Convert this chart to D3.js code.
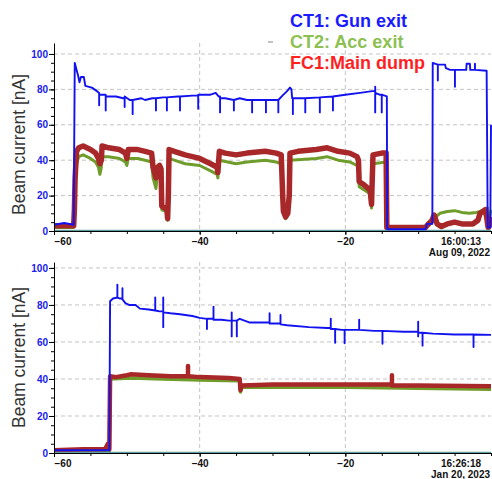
<!DOCTYPE html>
<html>
<head>
<meta charset="utf-8">
<script src="https://cdn.jsdelivr.net/npm/d3@7"></script>
<style>
  body { margin: 0; background: #fff; }
  svg { display: block; font-family: "Liberation Sans", Arial, sans-serif; }
</style>
</head>
<body>
<div id="wrapper"></div>
<script>
// tick values
const xTicks = [-60, -40, -20]
const yTicks = [0, 20, 40, 60, 80, 100]
const legendNames = ["CT1: Gun exit", "CT2: Acc exit", "FC1:Main dump"]
const topStamp = ["16:00:13", "Aug 09, 2022"]
const bottomStamp = ["16:26:18", "Jan 20, 2023"]

// top panel, [minutes, nA]
const topCT1 = [
  [-60, 3.5], [-58.6, 4.5], [-57.3, 3.5], [-57.15, 95], [-56.9, 91], [-56.7, 88], [-56.5, 84],
  [-56.3, 87], [-55.9, 87], [-55.7, 82], [-54.8, 81], [-54.1, 79], [-53.8, 78],
  [-53.8, 71], [-53.8, 77], [-53.3, 77], [-52.9, 77], [-52.9, 68], [-52.9, 76], [-51.5, 76],
  [-50.5, 75], [-50.3, 75], [-50.3, 70], [-50.3, 76], [-49.6, 74], [-49.2, 74], [-49.2, 66],
  [-49.2, 74], [-48, 75], [-47.5, 74], [-46.5, 75], [-46.0, 75], [-46.0, 68], [-46.0, 75],
  [-45, 75.5], [-44.5, 75.5], [-44.5, 68], [-44.5, 75.5], [-43, 76], [-42.7, 76], [-42.7, 68],
  [-42.7, 76], [-41, 76.5], [-40.2, 76.5], [-40.2, 69], [-40.2, 77], [-38.5, 77], [-37.8, 78],
  [-37.4, 76], [-37.2, 76], [-37.2, 67], [-37.2, 75], [-36.5, 75], [-35.3, 74], [-35.3, 68],
  [-35.3, 74], [-34.5, 75], [-33.5, 74], [-32.8, 74], [-32.8, 67], [-32.8, 74], [-30.9, 74],
  [-30.9, 67], [-30.9, 74], [-29.2, 74], [-29.2, 67], [-29.2, 74], [-28.5, 77], [-28.0, 79],
  [-27.6, 81], [-27.4, 80], [-27.3, 75], [-27.2, 75], [-27.2, 66], [-27.2, 75], [-25.5, 75],
  [-25.5, 67], [-25.5, 75], [-23.5, 75.5], [-23.5, 67], [-23.5, 75.5], [-21.7, 76], [-21.7, 68],
  [-21.7, 76], [-20, 77], [-18, 78], [-16.3, 79], [-15.9, 79], [-15.9, 67], [-15.9, 81.5],
  [-15.9, 78], [-15.3, 77], [-15.0, 77], [-15.0, 67], [-15.0, 77], [-14.3, 76], [-14.25, 1],
  [-9.0, 1], [-8.8, 4], [-8.05, 4], [-8.0, 95], [-7.3, 94], [-7.3, 85], [-7.3, 94], [-6.3, 94],
  [-6.2, 92], [-5.6, 91], [-4.95, 91], [-4.95, 81.5], [-4.95, 91], [-3.4, 91], [-3.35, 94.5],
  [-2.9, 94.5], [-2.85, 91], [-2.2, 91], [-2.2, 94.5], [-2.2, 91], [-0.6, 90.5], [-0.45, 2],
  [-0.1, 2], [0, 60]
]
const topCT2 = [
  [-60, 2], [-57.3, 2], [-57.1, 25], [-56.9, 38], [-56.6, 42], [-56, 43], [-55, 41], [-54.3, 39],
  [-53.9, 36], [-53.7, 32], [-53.5, 36], [-53.4, 42], [-52.5, 42], [-51, 41], [-50.2, 39],
  [-50.0, 37], [-49.8, 41], [-48.5, 41], [-47.5, 40], [-46.6, 39], [-46.4, 30], [-46.0, 24],
  [-45.8, 32], [-45.5, 33], [-45.3, 30], [-45.2, 12], [-44.5, 11], [-44.4, 6], [-44.3, 18],
  [-44.2, 41], [-43.5, 40], [-42, 38], [-40, 37], [-38.5, 34], [-37.6, 32], [-37.5, 30],
  [-37.3, 40], [-35, 38], [-33.5, 39], [-31, 40], [-29.5, 39], [-28.8, 38], [-28.6, 18],
  [-28.5, 10], [-28.2, 7], [-27.9, 9], [-27.7, 18], [-27.6, 40], [-24, 41], [-22.5, 42],
  [-21, 40], [-19.4, 39], [-18.4, 37], [-18.2, 35], [-18.1, 25], [-16.6, 21], [-16.4, 13],
  [-16.2, 38], [-14.4, 39], [-14.3, 1.5], [-9, 1.5], [-8.6, 3], [-8.1, 5], [-7.6, 8], [-7, 10],
  [-6, 11], [-5, 11.5], [-4, 10.5], [-3, 10], [-2, 10.5], [-1.5, 11], [-0.8, 12], [-0.5, 13],
  [-0.4, 2], [0, 12]
]
const topFC1 = [
  [-60, 3], [-57.3, 3], [-57.2, 12], [-57.1, 30], [-56.9, 45], [-56.6, 47], [-56, 48], [-55, 46],
  [-54.3, 44], [-53.9, 41], [-53.7, 38], [-53.5, 40], [-53.4, 48], [-52.5, 47], [-51, 46],
  [-50.2, 44], [-50.0, 41], [-49.8, 46], [-48.5, 46], [-47.5, 45], [-46.6, 44], [-46.4, 36],
  [-46.0, 30], [-45.8, 36], [-45.5, 37], [-45.3, 35], [-45.2, 14], [-44.8, 13], [-44.5, 12],
  [-44.4, 7], [-44.3, 20], [-44.2, 46], [-43.5, 45], [-42, 43], [-40, 41], [-38.5, 38],
  [-37.6, 36], [-37.5, 33], [-37.3, 45], [-36.5, 44], [-35, 43], [-33.5, 44], [-31, 45],
  [-29.5, 44], [-28.8, 43], [-28.6, 20], [-28.5, 11], [-28.2, 8], [-27.9, 10], [-27.7, 20],
  [-27.6, 44], [-26.5, 45], [-24, 46], [-22.5, 47], [-21, 45], [-19.4, 44], [-18.4, 42],
  [-18.2, 40], [-18.1, 28], [-17.4, 26], [-16.6, 23], [-16.4, 15], [-16.3, 30], [-16.2, 43],
  [-15, 44], [-14.4, 44], [-14.3, 2], [-9, 2], [-8.6, 4], [-8.1, 6], [-7.8, 9], [-7.4, 4],
  [-6.8, 2.5], [-6, 4], [-5, 5], [-4, 4], [-2.5, 4], [-1.8, 6], [-1.5, 10], [-0.8, 12],
  [-0.6, 8], [-0.4, 2], [-0.2, 3], [0, 8]
]
const topBase = [[-60, 0.3], [0, 0.3]]

// bottom panel, [minutes, nA]
const botCT1 = [
  [-60, 1.5], [-52.4, 1.5], [-52.3, 82], [-51.9, 83.5], [-51.3, 84], [-51.3, 91], [-51.3, 84],
  [-51, 83.5], [-50.6, 83.5], [-50.6, 89], [-50.6, 83], [-50.2, 81], [-49.7, 80], [-48.8, 80],
  [-48.2, 78], [-47, 77.5], [-46.1, 77], [-46.1, 84], [-46.1, 77], [-45.5, 76.5], [-45, 76.5],
  [-45, 84], [-45, 68], [-45, 76], [-44, 75.5], [-42.7, 75], [-41, 74], [-40, 73], [-39, 72.5],
  [-39, 67], [-39, 72.5], [-38.1, 72.5], [-38.1, 79], [-38.1, 72], [-37, 72], [-36, 71.5],
  [-35.6, 71.5], [-35.6, 76], [-35.6, 63], [-35.6, 71.5], [-34.9, 71.5], [-34.9, 63],
  [-34.9, 71.5], [-34.5, 72.5], [-33.1, 70.5], [-30.4, 70.5], [-30.4, 75.5], [-30.4, 70],
  [-29.5, 70], [-28.9, 70], [-28.9, 74.6], [-28.9, 69.5], [-28, 69], [-25, 68], [-22.5, 67.5],
  [-22, 67.5], [-22, 72.5], [-22, 67], [-21.4, 67], [-21.4, 59.6], [-21.4, 67], [-20.5, 66.5],
  [-20.1, 66.5], [-20.1, 59.3], [-20.1, 66.5], [-19, 66.5], [-18.1, 66.5], [-18.1, 72],
  [-18.1, 66.5], [-16, 66], [-14.9, 66], [-14.9, 59], [-14.9, 66], [-12, 65.5], [-10.5, 65.5],
  [-10.0, 65.5], [-10.0, 71], [-10.0, 63], [-10.0, 65], [-9.4, 65], [-9.4, 58], [-9.4, 65],
  [-8, 64.5], [-5, 64], [-2.4, 64], [-2.4, 57.3], [-2.4, 64], [0, 63.8]
]
const botCT2 = [
  [-60, 1], [-52.4, 1], [-52.3, 40], [-49.5, 40.5], [-45, 40], [-40, 39.5], [-34.5, 39],
  [-34.4, 33], [-34.2, 35.5], [-20, 35.5], [-10, 35], [0, 34.5]
]
const botFC1 = [
  [-60, 1.5], [-56, 2], [-53, 2], [-52.6, 5], [-52.4, 2], [-52.3, 41.5], [-51.5, 41],
  [-50, 42], [-49.5, 42.5], [-47, 42], [-44, 41.5], [-41.6, 41.5], [-41.6, 47], [-41.6, 41.5],
  [-40, 41], [-36, 40.5], [-34.5, 40], [-34.4, 34], [-34.2, 36.5], [-30, 37], [-20, 37],
  [-13.6, 37], [-13.6, 42], [-13.6, 36.5], [-10, 36.5], [0, 36]
]
const botBase = [[-60, 0.3], [0, 0.3]]

const xAccessor = d => d[0]
const yAccessor = d => d[1]

const dms = { width: 492, height: 479, left: 54, right: 491 }

const wrapper = d3.select("#wrapper")
  .append("svg")
  .attr("width", dms.width)
  .attr("height", dms.height)

const xScale = d3.scaleLinear()
  .domain([-60, 0])
  .range([dms.left, dms.right])

function drawPanel(p) {
  const yScale = d3.scaleLinear()
    .domain([0, p.yMax])
    .range([p.bottom, p.top])

  const g = wrapper.append("g")

  // grid
  g.append("g").selectAll("line.h")
    .data(yTicks.slice(1))
    .join("line")
    .attr("x1", dms.left).attr("x2", dms.right)
    .attr("y1", d => yScale(d)).attr("y2", d => yScale(d))
    .attr("stroke", "#c4c4c4").attr("stroke-dasharray", "4,3")
  g.append("g").selectAll("line.v")
    .data(xTicks.slice(1))
    .join("line")
    .attr("x1", d => xScale(d)).attr("x2", d => xScale(d))
    .attr("y1", p.top).attr("y2", p.bottom)
    .attr("stroke", "#c4c4c4").attr("stroke-dasharray", "4,3")

  const line = d3.line()
    .x(d => xScale(xAccessor(d)))
    .y(d => yScale(yAccessor(d)))

  const series = [
    { data: p.ct2, color: "#6f9d2c", w: p.greenW },
    { data: p.fc1, color: "#a8282a", w: p.redW },
    { data: p.base, color: "#5f9ea0", w: 1.5 },
    { data: p.ct1, color: "#1212f0", w: 1.9 },
  ]
  g.selectAll("path.s")
    .data(series)
    .join("path")
    .attr("d", d => line(d.data))
    .attr("fill", "none")
    .attr("stroke", d => d.color)
    .attr("stroke-width", d => d.w)
    .attr("stroke-linejoin", "round")

  // y axis
  g.append("g")
    .attr("transform", `translate(${dms.left},0)`)
    .call(d3.axisLeft(yScale).tickValues(d3.range(0, 101, 5)).tickSize(3).tickSizeOuter(0).tickFormat(""))
    .call(a => a.select(".domain").attr("stroke", "#000"))
  const yAxis = g.append("g")
    .attr("transform", `translate(${dms.left},0)`)
    .call(d3.axisLeft(yScale).tickValues(yTicks).tickSize(5).tickPadding(1).tickSizeOuter(0))
  yAxis.select(".domain").remove()
  yAxis.selectAll("text")
    .attr("fill", "#2020ee")
    .style("font-size", "10px")
    .style("font-weight", "bold")
    .style("font-family", "Liberation Sans, Arial, sans-serif")

  // x axis
  g.append("g")
    .attr("transform", `translate(0,${p.bottom})`)
    .call(d3.axisBottom(xScale).tickValues(d3.range(-60, 1, 5)).tickSize(3).tickSizeOuter(0).tickFormat(""))
  const xAxis = g.append("g")
    .attr("transform", `translate(0,${p.bottom})`)
    .call(d3.axisBottom(xScale).tickValues(xTicks).tickSize(4).tickPadding(3).tickSizeOuter(0))
  xAxis.select(".domain").remove()
  xAxis.selectAll("text")
    .attr("fill", "#111")
    .style("font-size", "10px")
    .style("font-weight", "bold")
    .style("font-family", "Liberation Sans, Arial, sans-serif")
    .attr("text-anchor", d => d === -60 ? "start" : "middle")

  // time stamp
  g.append("text")
    .attr("x", 461).attr("y", p.bottom + 14)
    .attr("text-anchor", "middle")
    .style("font-size", "10px").style("font-weight", "bold")
    .attr("fill", "#111")
    .text(p.stamp[0])
  g.append("text")
    .attr("x", 490).attr("y", p.bottom + 25)
    .attr("text-anchor", "end")
    .style("font-size", "10px").style("font-weight", "bold")
    .attr("fill", "#111")
    .text(p.stamp[1])

  // y title
  g.append("text")
    .attr("transform", `translate(25,${p.titleY}) rotate(-90)`)
    .attr("text-anchor", "middle")
    .style("font-size", "17.5px")
    .attr("fill", "#333")
    .text("Beam current [nA]")
}

drawPanel({
  top: 43, bottom: 231, yMax: 106.2, titleY: 144.5,
  ct1: topCT1, ct2: topCT2, fc1: topFC1, base: topBase,
  redW: 5.5, greenW: 3, stamp: topStamp,
})
drawPanel({
  top: 262, bottom: 453, yMax: 103.2, titleY: 357.5,
  ct1: botCT1, ct2: botCT2, fc1: botFC1, base: botBase,
  redW: 4.5, greenW: 3.5, stamp: bottomStamp,
})

// legend
const legendColors = ["#1a1aff", "#8cc152", "#ff1f1f"]
wrapper.append("g").selectAll("text")
  .data(legendNames)
  .join("text")
  .attr("x", 290)
  .attr("y", (d, i) => 27 + i * 21)
  .attr("fill", (d, i) => legendColors[i])
  .style("font-size", "18px")
  .style("font-weight", "bold")
  .text(d => d)
wrapper.append("line")
  .attr("x1", 268).attr("x2", 273)
  .attr("y1", 42).attr("y2", 42)
  .attr("stroke", "#888")
</script>
</body>
</html>
